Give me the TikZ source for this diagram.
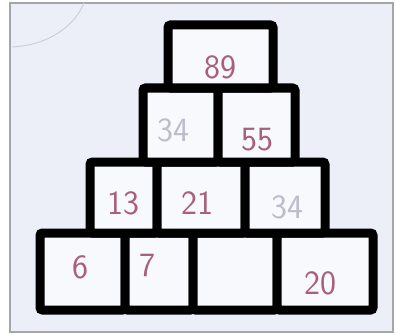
\documentclass[tikz,border=0pt]{standalone}
\usepackage{fontspec}
\usetikzlibrary{positioning}
\definecolor{paper}{HTML}{ECEFF8}
\definecolor{inkPink}{HTML}{A8607A}
\definecolor{inkGray}{HTML}{BDBDC9}
\begin{document}
\begin{tikzpicture}[x=1pt, y=-1pt,
    cell/.style={draw=black, line width=9pt, rounded corners=2.5pt, inner sep=0pt, fill=white!60!paper},
    numPink/.style={text=inkPink, font=\fontsize{34}{36}\selectfont\sffamily},
    numGray/.style={text=inkGray, font=\fontsize{34}{36}\selectfont\sffamily}]

% Photo frame and paper
\fill[white] (0,0) rectangle (395,334);
\fill[paper] (10,3) rectangle (393,332);
\draw[gray!70, line width=1.2pt] (10,3) rectangle (393,332);
\draw[blue!10!gray!35, line width=1pt] (12,47) .. controls (50,45) and (75,25) .. (84,3);
\useasboundingbox (0,0) rectangle (395,334);

% Bottom row
\node[cell, minimum width=85pt, minimum height=77pt] (c41) at (82.5,271.5) {};
\node[cell, minimum width=68pt, minimum height=77pt] (c42) at (159,271.5) {};
\node[cell, minimum width=84pt, minimum height=77pt] (c43) at (235,271.5) {};
\node[cell, minimum width=96pt, minimum height=77pt] (c44) at (325,271.5) {};

% Third row
\node[cell, minimum width=67pt, minimum height=71pt] (c31) at (123.5,197.5) {};
\node[cell, minimum width=88pt, minimum height=71pt] (c32) at (201,197.5) {};
\node[cell, minimum width=80pt, minimum height=71pt] (c33) at (285,197.5) {};

% Second row
\node[cell, minimum width=75pt, minimum height=74pt] (c21) at (180.5,125) {};
\node[cell, minimum width=77pt, minimum height=74pt] (c22) at (256.5,125) {};

% Top
\node[cell, minimum width=105pt, minimum height=63pt] (c11) at (220.5,56.5) {};

% Numbers
\node[numPink] (n11) at (220,67) {89};
\node[numGray] (n21) at (173,130) {34};
\node[numPink] (n22) at (257,140) {55};
\node[numPink] (n31) at (123,203) {13};
\node[numPink] (n32) at (197,203) {21};
\node[numGray] (n33) at (287,207) {34};
\node[numPink] (n41) at (80,267) {6};
\node[numPink] (n42) at (147,265) {7};
\node[numPink] (n44) at (320,283) {20};

\end{tikzpicture}
\end{document}
